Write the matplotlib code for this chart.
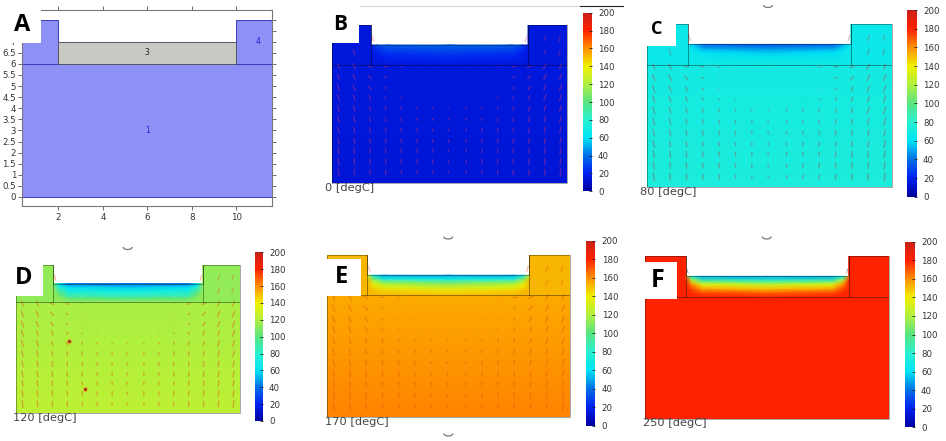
import numpy as np
import matplotlib
matplotlib.use("Agg")
import matplotlib.pyplot as plt
from matplotlib.cm import ScalarMappable
from matplotlib.colors import LinearSegmentedColormap, Normalize
from matplotlib.patches import Arc, Rectangle

W, H = 946, 441

# colour scale, one colour per tick
scale_colors = ["#0000a0", "#0020f0", "#0070e8", "#00e4f4", "#28f0d0", "#58e480",
                "#b0f040", "#f0f000", "#ff9000", "#ff2200", "#c82018"]

# temperature, in colour scale units
walls = {"B": 15, "C": 66, "D": 113, "E": 152, "F": 180}
body_bottom_top = {"B": [14, 15], "C": [74, 70], "D": [124, 118], "E": [162, 154], "F": [180, 180]}
layer_depths = [7, 6.8, 6.6, 6.4, 6.2, 6]
layer_offsets = [2, 2.3, 2.8, 6]
layers = {
    "B": [[18, 30, 36, 38], [16, 24, 30, 32], [15, 20, 25, 27], [15, 18, 21, 23], [15, 16, 18, 19], [15, 15, 16, 16]],
    "C": [[64, 52, 38, 35], [66, 62, 50, 46], [66, 65, 60, 56], [66, 66, 64, 62], [66, 66, 66, 66], [66, 66, 67, 68]],
    "D": [[108, 60, 42, 40], [112, 80, 60, 56], [113, 95, 72, 70], [113, 105, 85, 82], [113, 112, 103, 98], [113, 113, 113, 113]],
    "E": [[135, 65, 50, 50], [150, 112, 80, 75], [152, 135, 118, 110], [152, 145, 135, 128], [152, 151, 147, 143], [152, 152, 152, 152]],
    "F": [[160, 65, 50, 50], [178, 125, 92, 85], [180, 160, 135, 125], [180, 172, 155, 148], [180, 178, 172, 168], [180, 180, 180, 178]],
}

# flow arrows, left half of the domain (mirrored for the right half)
flow_x = [0.35, 1.15, 1.95, 2.75, 3.55, 4.35, 5.15, 5.95]
flow_y = [5.9, 5.35, 4.8, 4.3, 3.75, 3.2, 2.65, 2.1, 1.6, 1.05, 0.5]
flow_u = [
    [.12, .16, .28, .25, .10, .04, .02, 0],
    [.14, .16, .22, .16, .06, .03, .01, 0],
    [.14, .14, .14, .10, .04, .02, .01, 0],
    [.12, .12, .10, .06, .03, .02, .01, 0],
    [.12, .10, .08, .05, .03, .02, .01, 0],
    [.10, .08, .06, .04, .02, .02, .01, 0],
    [.08, .07, .05, .03, .02, .01, .01, 0],
    [.07, .06, .04, .03, .02, .01, 0, 0],
    [.06, .05, .03, .02, .01, .01, 0, 0],
    [.05, .04, .03, .02, .01, .01, 0, 0],
    [.04, .03, .02, .01, .01, 0, 0, 0],
]
flow_v = [
    [.35, .35, .12, .03, .02, .02, .01, .01],
    [.38, .36, .22, .08, .04, .02, .02, .01],
    [.40, .36, .28, .14, .06, .04, .03, .02],
    [.40, .36, .30, .20, .12, .08, .06, .04],
    [.40, .38, .30, .26, .20, .16, .14, .10],
    [.40, .38, .32, .28, .24, .20, .18, .16],
    [.40, .38, .34, .30, .26, .24, .20, .18],
    [.42, .38, .34, .30, .28, .24, .22, .20],
    [.42, .40, .36, .32, .28, .26, .24, .20],
    [.44, .40, .36, .32, .30, .26, .24, .20],
    [.46, .40, .36, .32, .28, .24, .20, .16],
]
wall_x = [1.15, 10.85, 11.6, 10.85, 11.6, 2.1, 9.9]
wall_y = [6.6, 7.3, 7.3, 6.6, 6.6, 7.3, 7.3]
wall_u = [.10, -.12, -.08, -.12, -.08, .10, -.10]
wall_v = [.35, .35, .35, .35, .35, .35, .35]
arrow_styles = {"B": ("#d83070", .4), "C": ("#906060", .45), "D": ("#e06020", .5),
                "E": ("#e05010", .4), "F": ("#ff3000", .0)}
spot_x = [2.84, 3.7]
spot_y = [3.9, 1.3]

temperatures = {"B": "0 [degC]", "C": "80 [degC]", "D": "120 [degC]", "E": "170 [degC]", "F": "250 [degC]"}
cbar_ticks = list(range(0, 201, 20))
xticks_a = [2, 4, 6, 8, 10]
yticks_a = [i * 0.5 for i in range(0, 17)]
# the two top ticks sit behind the white box of the letter
ylabels_a = ["0", "0.5", "1", "1.5", "2", "2.5", "3", "3.5", "4", "4.5", "5", "5.5", "6", "6.5", "7", "", ""]

# pixel layout: left, right, top, bottom
panel_boxes = {
    "B": (331.7, 567.3, 25.3, 182.7),
    "C": (646.7, 891.7, 24, 187.3),
    "D": (16, 240, 265, 413.3),
    "E": (326.7, 570, 255, 416.7),
    "F": (645.3, 889.3, 256, 418.7),
}
cbar_boxes = {
    "B": (582.7, 591.7, 12.7, 191.3),
    "C": (907.3, 916.7, 10, 196.7),
    "D": (255, 262.7, 252.3, 421),
    "E": (586, 595.3, 240.7, 425.7),
    "F": (905.3, 914.7, 241.7, 427.3),
}
white_boxes = {
    "A": (0, 41, 0, 43),
    "B": (325, 359, 8, 42.7),
    "C": (640, 676, 8, 46),
    "D": (0, 43.3, 255, 295.7),
    "E": (318, 360.7, 259, 296),
    "F": (640, 676.7, 261.7, 299),
}
letter_pos = {"A": (21.7, 25, 17), "B": (340, 25, 15), "C": (656.7, 29.3, 13),
              "D": (23.3, 278, 17), "E": (341.7, 277, 17), "F": (658, 280.7, 18)}
temp_pos = {"B": (325, 187.7), "C": (640, 192), "D": (13.3, 417.7), "E": (325, 421.7), "F": (642.7, 423.3)}
arcs = [(768, 5), (127.7, 247), (448.3, 236.5), (448.3, 433.5), (766.7, 236.5)]

norm = Normalize(0, 200)
cmap = LinearSegmentedColormap.from_list("scale", scale_colors)


def px_axes(left, right, top, bottom):
    return fig.add_axes([left / W, 1 - bottom / H, (right - left) / W, (bottom - top) / H])


def fill(ax, x, y, z):
    ax.pcolormesh(x, y, np.array(z, dtype=float), shading="gouraud", cmap=cmap, norm=norm)


def draw_panel(key):
    ax = px_axes(*panel_boxes[key])
    ax.set_xlim(0, 12)
    ax.set_ylim(0, 8)
    ax.axis("off")

    wall = walls[key]
    low, high = body_bottom_top[key]
    fill(ax, [0, 12], [0, 6], [[low, low], [high, high]])
    fill(ax, [0, 2], [6, 8], [[wall, wall], [wall, wall]])
    fill(ax, [10, 12], [6, 8], [[wall, wall], [wall, wall]])

    # water layer, mirrored about the middle
    rows = layers[key][::-1]
    z = [r + r[-2::-1] for r in rows]
    xs = layer_offsets + [12 - v for v in layer_offsets[-2::-1]]
    fill(ax, xs, layer_depths[::-1], z)

    # domain outline
    edge = (0, 0, 0, 0.4)
    ax.plot([0, 12, 12, 10, 10, 2, 2, 0, 0], [0, 0, 8, 8, 7, 7, 8, 8, 0], color=edge, lw=0.6, clip_on=False)
    ax.plot([0, 12], [6, 6], color=edge, lw=0.7)
    ax.plot([2, 2], [6, 8], color=edge, lw=0.7)
    ax.plot([10, 10], [6, 8], color=edge, lw=0.7)

    color, alpha = arrow_styles[key]
    if alpha > 0:
        x = flow_x + [12 - v for v in flow_x[-2::-1]]
        u = np.array(flow_u, dtype=float)
        v = np.array(flow_v, dtype=float)
        uu = np.hstack([u, -u[:, -2::-1]])
        vv = np.hstack([v, v[:, -2::-1]])
        xx, yy = np.meshgrid(x, flow_y)
        ax.quiver(xx, yy, uu, -vv, color=color, alpha=alpha, angles="xy", scale_units="xy", scale=1,
                  pivot="mid", width=0.006, headwidth=1, headlength=1, headaxislength=1, minlength=0)
        ax.quiver(wall_x, wall_y, wall_u, [-s for s in wall_v], color=color, alpha=alpha * 0.8, angles="xy",
                  scale_units="xy", scale=1, pivot="mid", width=0.006, headwidth=1, headlength=1,
                  headaxislength=1, minlength=0, clip_on=False)
    else:
        ax.quiver([2.08, 9.92], [7.25, 7.25], [.06, -.06], [-.25, -.25], color="#b0a0a0", angles="xy",
                  scale_units="xy", scale=1, pivot="mid", width=0.004, headwidth=1, headlength=1,
                  headaxislength=1, minlength=0, clip_on=False)
    if key == "D":
        ax.scatter(spot_x, spot_y, s=14, color="#f09020", alpha=0.6, linewidths=0)
        ax.scatter(spot_x, spot_y, s=4, color="#902010", linewidths=0)

    cax = px_axes(*cbar_boxes[key])
    cb = fig.colorbar(ScalarMappable(norm=norm, cmap=cmap), cax=cax, ticks=cbar_ticks)
    cb.outline.set_visible(False)
    cb.ax.tick_params(direction="in", length=2, width=0.6, labelsize=6.2, labelcolor="#333333",
                      pad=4.5, color="#222222")


plt.rcParams["font.family"] = ["DejaVu Sans"]
fig = plt.figure(figsize=(W / 100, H / 100), dpi=100, facecolor="w")

# geometry panel
ax = px_axes(22.3, 271.7, 10, 206.3)
ax.set_xlim(0.37, 11.6)
ax.set_ylim(-0.42, 8.43)
blue, dark_blue = "#8f90f6", "#3a3ab8"
ax.add_patch(Rectangle((0, 0), 12, 6, fc=blue, ec=dark_blue, lw=0.7))
ax.add_patch(Rectangle((0, 6), 2, 2, fc=blue, ec=dark_blue, lw=0.7))
ax.add_patch(Rectangle((10, 6), 2, 2, fc=blue, ec=dark_blue, lw=0.7))
ax.add_patch(Rectangle((2, 6), 8, 1, fc="#c9c9c3", ec="#555566", lw=0.7))
ax.text(6, 3, "1", color="#2020d0", fontsize=5.5, ha="center", va="center")
ax.text(6, 6.5, "3", color="#222222", fontsize=5.5, ha="center", va="center")
ax.text(11, 7, "4", color="#2020d0", fontsize=5.5, ha="center", va="center")
ax.set_xticks(xticks_a)
ax.set_yticks(yticks_a)
ax.set_yticklabels(ylabels_a)
ax.tick_params(top=True, right=True, direction="out", length=3, width=0.6, color="#555555",
               labelsize=6.2, labelcolor="#333333", pad=1.5)
for s in ax.spines.values():
    s.set_color("#777777")
    s.set_linewidth(0.8)

for key in temperatures:
    draw_panel(key)

# everything that sits on top, in image pixels
top = fig.add_axes([0, 0, 1, 1], zorder=10)
top.set_xlim(0, W)
top.set_ylim(H, 0)
top.axis("off")
top.patch.set_alpha(0)
for key, (x0, x1, y0, y1) in white_boxes.items():
    top.add_patch(Rectangle((x0, y0), x1 - x0, y1 - y0, fc="w", ec="none"))
for key, (x, y, size) in letter_pos.items():
    top.text(x, y, key, fontsize=size, fontweight="bold", family="Open Sans", ha="center", va="center", color="k")
for key, label in temperatures.items():
    x, y = temp_pos[key]
    top.text(x, y, label, fontsize=8.2, color="#444444", ha="left", va="center")
for x, y in arcs:
    top.add_patch(Arc((x, y), 9, 5, theta1=0, theta2=180, color="#777777", lw=0.9))
top.plot([360, 580], [6, 6], color="#d8d8d8", lw=0.8)
top.plot([580, 623], [6, 6], color="#222222", lw=0.8)

fig.savefig("out.png", dpi=100)
